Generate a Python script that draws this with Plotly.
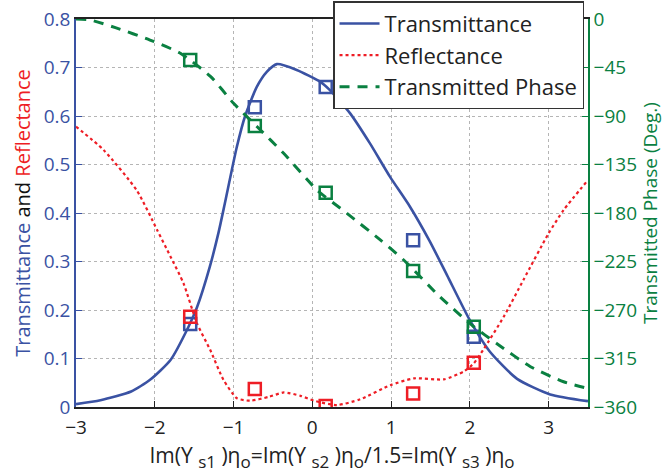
import plotly.graph_objects as go

# Transmittance curve
x_T = [-3.0, -2.69, -2.3, -2.06, -1.80, -1.57, -1.465, -1.30, -1.19, -1.11, -0.96, -0.853,
       -0.705, -0.578, -0.45, -0.198, 0.098, 0.22, 0.478, 0.73, 0.985, 1.24, 1.49, 1.71,
       2.0, 2.25, 2.6, 3.02, 3.5]
T = [0.006, 0.014, 0.032, 0.056, 0.097, 0.166, 0.205, 0.29, 0.36, 0.42, 0.535, 0.6,
     0.66, 0.691, 0.707, 0.695, 0.671, 0.654, 0.606, 0.544, 0.475, 0.413, 0.342, 0.272,
     0.179, 0.115, 0.058, 0.026, 0.012]

# Reflectance curve
x_R = [-3.0, -2.65, -2.23, -1.97, -1.80, -1.635, -1.465, -1.297, -1.128, -0.956, -0.79,
       -0.55, -0.36, -0.15, 0.02, 0.31, 0.61, 0.99, 1.29, 1.67, 1.92, 2.05, 2.17, 2.43,
       2.68, 3.0, 3.19, 3.5]
R = [0.578, 0.53, 0.447, 0.365, 0.31, 0.255, 0.173, 0.118, 0.056, 0.018, 0.013,
     0.021, 0.03, 0.023, 0.013, 0.004, 0.016, 0.045, 0.059, 0.057, 0.073, 0.09, 0.118, 0.186,
     0.262, 0.358, 0.406, 0.468]

# Transmitted phase curve (degrees)
x_P = [-3.0, -2.82, -2.5, -2.06, -1.675, -1.29, -1.0, -0.70, -0.364, 0.06, 0.44, 0.863,
       1.16, 1.62, 2.05, 2.34, 2.77, 3.19, 3.5]
P = [0, -0.9, -8, -19.5, -31.8, -53.5, -78.2, -100, -124.6, -158.7, -180.3, -205,
     -223.6, -257.7, -285.5, -301, -322.6, -336.6, -342.7]

# Discrete sample points
x_s = [-1.55, -0.73, 0.17, 1.28, 2.05]
T_s = [0.171, 0.618, 0.66, 0.344, 0.145]
R_s = [0.186, 0.037, 0.002, 0.028, 0.091]
P_s = [-38, -99.3, -161.2, -233.9, -285.5]

x_ticks = [-3, -2, -1, 0, 1, 2, 3]
x_ticktext = ["\u22123", "\u22122", "\u22121", "0", "1", "2", "3"]
y_ticks = [0, 0.1, 0.2, 0.3, 0.4, 0.5, 0.6, 0.7, 0.8]
y_ticktext = ["0", "0.1", "0.2", "0.3", "0.4", "0.5", "0.6", "0.7", "0.8"]
p_ticks = [0, -45, -90, -135, -180, -225, -270, -315, -360]
p_ticktext = ["0", "\u221245", "\u221290", "\u2212135", "\u2212180", "\u2212225",
              "\u2212270", "\u2212315", "\u2212360"]

BLUE = "#3a52a3"
RED = "#ee1d25"
GREEN = "#0a8041"
FONT = "Open Sans"


def sub(s):
    return "<sub><span style='font-size:17px'>" + s + "</span></sub>"


x_title = ("Im(Y " + sub("s1") + " )η" + sub("o") + "=Im(Y " + sub("s2") + " )η" + sub("o")
           + "/1.5=Im(Y " + sub("s3") + " )η" + sub("o"))

fig = go.Figure()

fig.add_trace(go.Scatter(x=x_T, y=T, mode="lines", name="Transmittance",
                         line=dict(color=BLUE, width=2.6, shape="spline", smoothing=0.6)))
fig.add_trace(go.Scatter(x=x_R, y=R, mode="lines", name="Reflectance",
                         line=dict(color=RED, width=2.2, dash="dot", shape="spline", smoothing=0.6)))
fig.add_trace(go.Scatter(x=x_P, y=P, mode="lines", name="Transmitted Phase", yaxis="y2",
                         line=dict(color=GREEN, width=3, dash="10px,8px", shape="spline", smoothing=0.6)))

fig.add_trace(go.Scatter(x=x_s, y=T_s, mode="markers", showlegend=False,
                         marker=dict(symbol="square-open", size=12, color=BLUE,
                                     line=dict(width=2.5, color=BLUE))))
fig.add_trace(go.Scatter(x=x_s, y=R_s, mode="markers", showlegend=False,
                         marker=dict(symbol="square-open", size=12, color=RED,
                                     line=dict(width=2.5, color=RED))))
fig.add_trace(go.Scatter(x=x_s, y=P_s, mode="markers", showlegend=False, yaxis="y2",
                         marker=dict(symbol="square-open", size=12, color=GREEN,
                                     line=dict(width=2.5, color=GREEN))))

fig.update_layout(
    width=668, height=475,
    margin=dict(l=76, r=80, t=19, b=68, autoexpand=False),
    paper_bgcolor="white", plot_bgcolor="white",
    font=dict(family=FONT, size=19, color="#222"),
    xaxis=dict(
        range=[-3, 3.5], tickvals=x_ticks, ticktext=x_ticktext,
        showgrid=True, gridcolor="#b5b5b5", griddash="dot", gridwidth=1,
        zeroline=False, showline=True, linecolor="#222", linewidth=1.5, mirror=True,
        ticks="inside", ticklen=6, tickcolor="#222", ticklabelstandoff=2,
        tickfont=dict(size=19, color="#222"),
        title=dict(text=x_title, font=dict(size=21, color="#222"), standoff=10),
    ),
    yaxis=dict(
        range=[0, 0.8], tickvals=y_ticks, ticktext=y_ticktext,
        showgrid=True, gridcolor="#b5b5b5", griddash="dot", gridwidth=1,
        zeroline=False, showline=True, linecolor=BLUE, linewidth=1.5,
        ticks="inside", ticklen=6, tickcolor=BLUE,
        tickfont=dict(size=19, color=BLUE),
        title=dict(text="<span style='color:#3a52a3'>Transmittance</span> and "
                        "<span style='color:#ee1d25'>Reflectance</span>",
                   font=dict(size=20, color="#111"), standoff=8),
    ),
    yaxis2=dict(
        range=[-360, 0], tickvals=p_ticks, ticktext=p_ticktext,
        overlaying="y", side="right", showgrid=False, zeroline=False,
        showline=True, linecolor=GREEN, linewidth=1.5,
        ticks="inside", ticklen=6, tickcolor=GREEN,
        tickfont=dict(size=19, color=GREEN),
        title=dict(text="Transmitted Phase (Deg.)", font=dict(size=19, color=GREEN), standoff=6),
    ),
    legend=dict(
        x=0.502, y=1.046, xanchor="left", yanchor="top",
        bgcolor="white", bordercolor="#333", borderwidth=1.5,
        font=dict(size=22, color="#222"), tracegroupgap=0, itemwidth=40,
    ),
)

fig.write_html("out.html")
